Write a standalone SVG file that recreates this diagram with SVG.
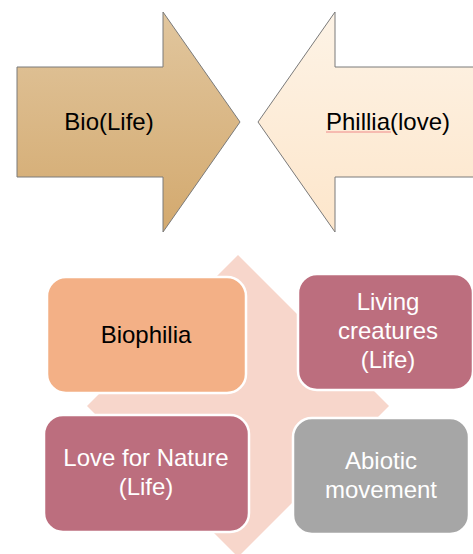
<svg xmlns="http://www.w3.org/2000/svg" width="473" height="554" viewBox="0 0 473 554">
  <defs>
    <linearGradient id="gradBio" x1="0" y1="0" x2="0" y2="1">
      <stop offset="0" stop-color="#e1c69e"/>
      <stop offset="1" stop-color="#d3a96e"/>
    </linearGradient>
    <linearGradient id="gradPhil" x1="0" y1="0" x2="0" y2="1">
      <stop offset="0" stop-color="#fdf3e6"/>
      <stop offset="1" stop-color="#fde6cb"/>
    </linearGradient>
  </defs>
  <style>
    text { font-family: "Liberation Sans", Arial, sans-serif; font-size: 24px; text-anchor: middle; }
    .dark { fill: #000000; }
    .light { fill: #ffffff; }
    .arrow { stroke: #7a7a7a; stroke-width: 1; }
    .box { stroke: #ffffff; stroke-width: 2.5; }
    .rose { fill: #bc6e7e; }
  </style>

  <!-- top: two arrows pointing at each other -->
  <g id="bio">
    <polygon class="arrow" fill="url(#gradBio)" points="17,67 163,67 163,12 240,122 163,232 163,177 17,177"/>
    <text class="dark" x="109" y="130">Bio(Life)</text>
  </g>
  <g id="phillia">
    <polygon class="arrow" fill="url(#gradPhil)" points="480,67 335,67 335,12 258,122 335,232 335,177 480,177"/>
    <text class="dark" x="388" y="130">Phillia(love)</text>
    <line x1="326" y1="132" x2="391" y2="132" stroke="#f08a8a" stroke-width="1"/>
  </g>

  <!-- bottom: matrix over a diamond backdrop -->
  <g id="backdrop">
    <polygon fill="#f7d6cb" points="238,255 389,406 238,557 87,406"/>
  </g>
  <g id="biophilia">
    <rect class="box" x="47" y="277" width="199" height="116" rx="19" fill="#f3b086"/>
    <text class="dark" x="146" y="343">Biophilia</text>
  </g>
  <g id="living">
    <rect class="box rose" x="298" y="274" width="175" height="116" rx="19"/>
    <text class="light" x="388" y="310">Living</text>
    <text class="light" x="388" y="339">creatures</text>
    <text class="light" x="388" y="368">(Life)</text>
  </g>
  <g id="love">
    <rect class="box rose" x="44" y="415" width="205" height="117" rx="19"/>
    <text class="light" x="146" y="466">Love for Nature</text>
    <text class="light" x="146" y="495">(Life)</text>
  </g>
  <g id="abiotic">
    <rect class="box" x="293" y="418" width="176" height="116" rx="19" fill="#a6a6a6"/>
    <text class="light" x="381" y="469">Abiotic</text>
    <text class="light" x="381" y="498">movement</text>
  </g>

  <g id="connectors"/>
</svg>
